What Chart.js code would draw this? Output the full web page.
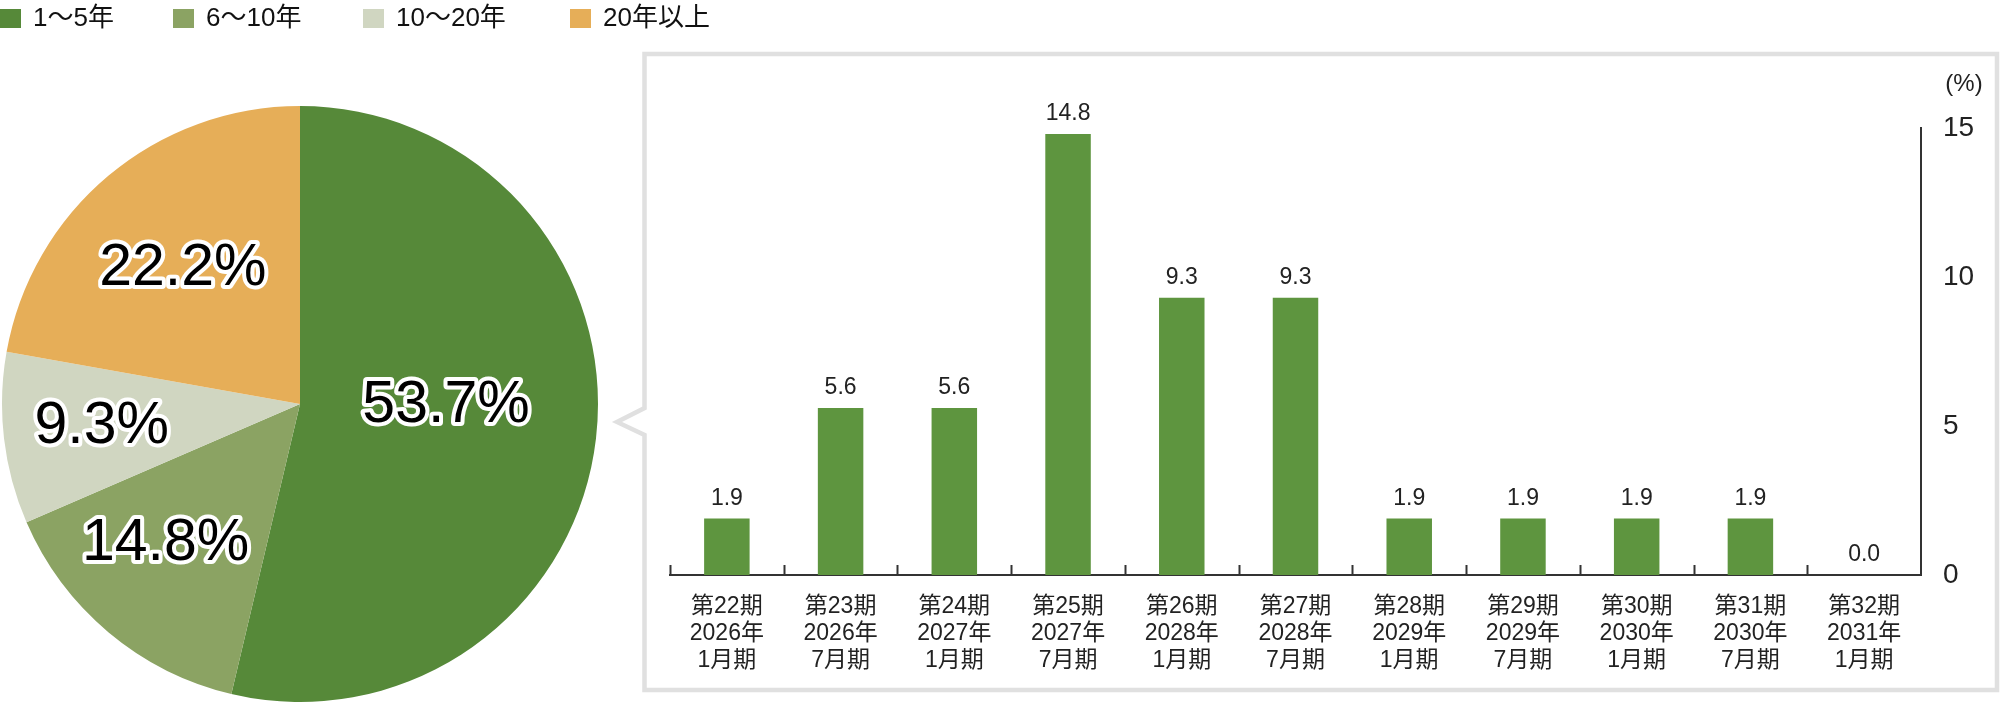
<!DOCTYPE html>
<html>
<head>
<meta charset="utf-8">
<script src="https://cdn.jsdelivr.net/npm/chart.js@4.4.1/dist/chart.umd.min.js"></script>
<style>
  html, body { margin: 0; padding: 0; background: #fff; }
  body { width: 2000px; height: 704px; position: relative; overflow: hidden; }
  #pie { position: absolute; left: 0; top: 0; }
  #bars { position: absolute; left: 610px; top: 48px; }
</style>
</head>
<body>
<canvas id="pie" width="760" height="704"></canvas>
<canvas id="bars" width="1390" height="656"></canvas>
<script>
// 残存期間別の構成比
var ageLabels = ['1〜5年', '6〜10年', '10〜20年', '20年以上'];
var ageShares = [53.7, 14.8, 9.3, 22.2];
var ageColors = ['#568939', '#8ba363', '#d0d6c1', '#e6ae58'];

// 期別の満期到来比率 (%)
var periodLabels = [
  ['第22期', '2026年', '1月期'],
  ['第23期', '2026年', '7月期'],
  ['第24期', '2027年', '1月期'],
  ['第25期', '2027年', '7月期'],
  ['第26期', '2028年', '1月期'],
  ['第27期', '2028年', '7月期'],
  ['第28期', '2029年', '1月期'],
  ['第29期', '2029年', '7月期'],
  ['第30期', '2030年', '1月期'],
  ['第31期', '2030年', '7月期'],
  ['第32期', '2031年', '1月期']
];
var periodValues = [1.9, 5.6, 5.6, 14.8, 9.3, 9.3, 1.9, 1.9, 1.9, 1.9, 0.0];
var yTicks = [0, 5, 10, 15];

var FONT = '"Liberation Sans", Arial, "Noto Sans CJK JP", sans-serif';

// legend along the top, drawn on the pie canvas
var legendPlugin = {
  id: 'topLegend',
  afterDraw: function(chart) {
    var ctx = chart.ctx;
    var xs = [0, 173, 363, 570];
    ctx.save();
    ctx.font = '26px ' + FONT;
    ctx.textBaseline = 'middle';
    ctx.textAlign = 'left';
    for (var i = 0; i < ageLabels.length; i++) {
      ctx.fillStyle = ageColors[i];
      ctx.fillRect(xs[i], 9, 21, 19);
      ctx.fillStyle = '#111';
      ctx.fillText(ageLabels[i], xs[i] + 33, 19);
    }
    ctx.restore();
  }
};

// big outlined percentage labels inside slices
var pieLabelPlugin = {
  id: 'pieLabels',
  afterDatasetsDraw: function(chart) {
    var ctx = chart.ctx;
    var anchors = [[0.49, -6], [0.65, 4], [0.67, 0], [0.6, -1]];
    var arcs = chart.getDatasetMeta(0).data;
    ctx.save();
    ctx.font = '59px ' + FONT;
    ctx.textAlign = 'center';
    ctx.textBaseline = 'middle';
    ctx.lineJoin = 'round';
    arcs.forEach(function(arc, i) {
      var p = arc.getProps(['x', 'y', 'startAngle', 'endAngle', 'outerRadius'], true);
      var a = (p.startAngle + p.endAngle) / 2 + anchors[i][1] * Math.PI / 180;
      var r = p.outerRadius * anchors[i][0];
      var tx = p.x + Math.cos(a) * r;
      var ty = p.y + Math.sin(a) * r;
      var txt = ageShares[i].toFixed(1) + '%';
      ctx.lineWidth = 8;
      ctx.strokeStyle = '#fff';
      ctx.strokeText(txt, tx, ty);
      ctx.fillStyle = '#000';
      ctx.fillText(txt, tx, ty);
    });
    ctx.restore();
  }
};

new Chart(document.getElementById('pie'), {
  type: 'pie',
  data: {
    labels: ageLabels,
    datasets: [{
      data: ageShares,
      backgroundColor: ageColors,
      borderWidth: 0
    }]
  },
  options: {
    responsive: false,
    animation: false,
    devicePixelRatio: 1,
    layout: { padding: { top: 106, left: 2, right: 162, bottom: 2 } },
    plugins: { legend: { display: false }, tooltip: { enabled: false } }
  },
  plugins: [legendPlugin, pieLabelPlugin]
});

// callout frame around the bar chart
var framePlugin = {
  id: 'frame',
  beforeDraw: function(chart) {
    var ctx = chart.ctx;
    var l = 34.5, t = 6, r = 1387, b = 642;
    ctx.save();
    ctx.strokeStyle = '#e0e0e0';
    ctx.lineWidth = 4.5;
    ctx.lineJoin = 'miter';
    ctx.beginPath();
    ctx.moveTo(l, 360);
    ctx.lineTo(l, t);
    ctx.lineTo(r, t);
    ctx.lineTo(r, b);
    ctx.lineTo(l, b);
    ctx.lineTo(l, 387);
    ctx.lineTo(7, 374);
    ctx.closePath();
    ctx.stroke();
    ctx.restore();
  }
};

// small upward ticks at category boundaries, value labels and unit
var barExtrasPlugin = {
  id: 'barExtras',
  afterDatasetsDraw: function(chart) {
    var ctx = chart.ctx;
    var xs = chart.scales.x;
    var ys = chart.scales.y;
    var area = chart.chartArea;
    var n = periodValues.length;
    var step = (xs.getPixelForValue(1) - xs.getPixelForValue(0));
    ctx.save();
    ctx.strokeStyle = '#333';
    ctx.lineWidth = 2;
    for (var i = 0; i < n; i++) {
      var bx = Math.round(xs.getPixelForValue(i) - step / 2) + 0.5;
      ctx.beginPath();
      ctx.moveTo(bx, area.bottom - 10);
      ctx.lineTo(bx, area.bottom);
      ctx.stroke();
    }
    ctx.font = '23px ' + FONT;
    ctx.fillStyle = '#222';
    ctx.textAlign = 'center';
    ctx.textBaseline = 'middle';
    chart.getDatasetMeta(0).data.forEach(function(bar, i) {
      ctx.fillText(periodValues[i].toFixed(1), bar.x, bar.y - 20);
    });
    ctx.font = '24px ' + FONT;
    ctx.fillText('(%)', ys.left + 43, area.top - 44);
    ctx.restore();
  }
};

new Chart(document.getElementById('bars'), {
  type: 'bar',
  data: {
    labels: periodLabels,
    datasets: [{
      data: periodValues,
      backgroundColor: '#5e953f',
      borderWidth: 0,
      categoryPercentage: 0.4,
      barPercentage: 1
    }]
  },
  options: {
    responsive: false,
    animation: false,
    devicePixelRatio: 1,
    layout: { padding: { left: 60, top: 80, right: 19, bottom: 0 } },
    plugins: { legend: { display: false }, tooltip: { enabled: false } },
    scales: {
      x: {
        offset: true,
        grid: { display: false },
        border: { display: true, color: '#333', width: 2 },
        ticks: {
          color: '#222',
          padding: 10,
          maxRotation: 0,
          autoSkip: false,
          font: { family: FONT, size: 23, lineHeight: 1.17 }
        },
        afterFit: function(scale) { scale.height = 129; }
      },
      y: {
        position: 'right',
        min: 0,
        max: 15,
        grid: { display: false, drawTicks: false },
        border: { display: true, color: '#333', width: 2 },
        afterBuildTicks: function(scale) {
          scale.ticks = yTicks.map(function(v) { return { value: v }; });
        },
        ticks: {
          color: '#222',
          padding: 22,
          font: { family: FONT, size: 28 }
        },
        afterFit: function(scale) { scale.width = 60; }
      }
    }
  },
  plugins: [framePlugin, barExtrasPlugin]
});
</script>
</body>
</html>
